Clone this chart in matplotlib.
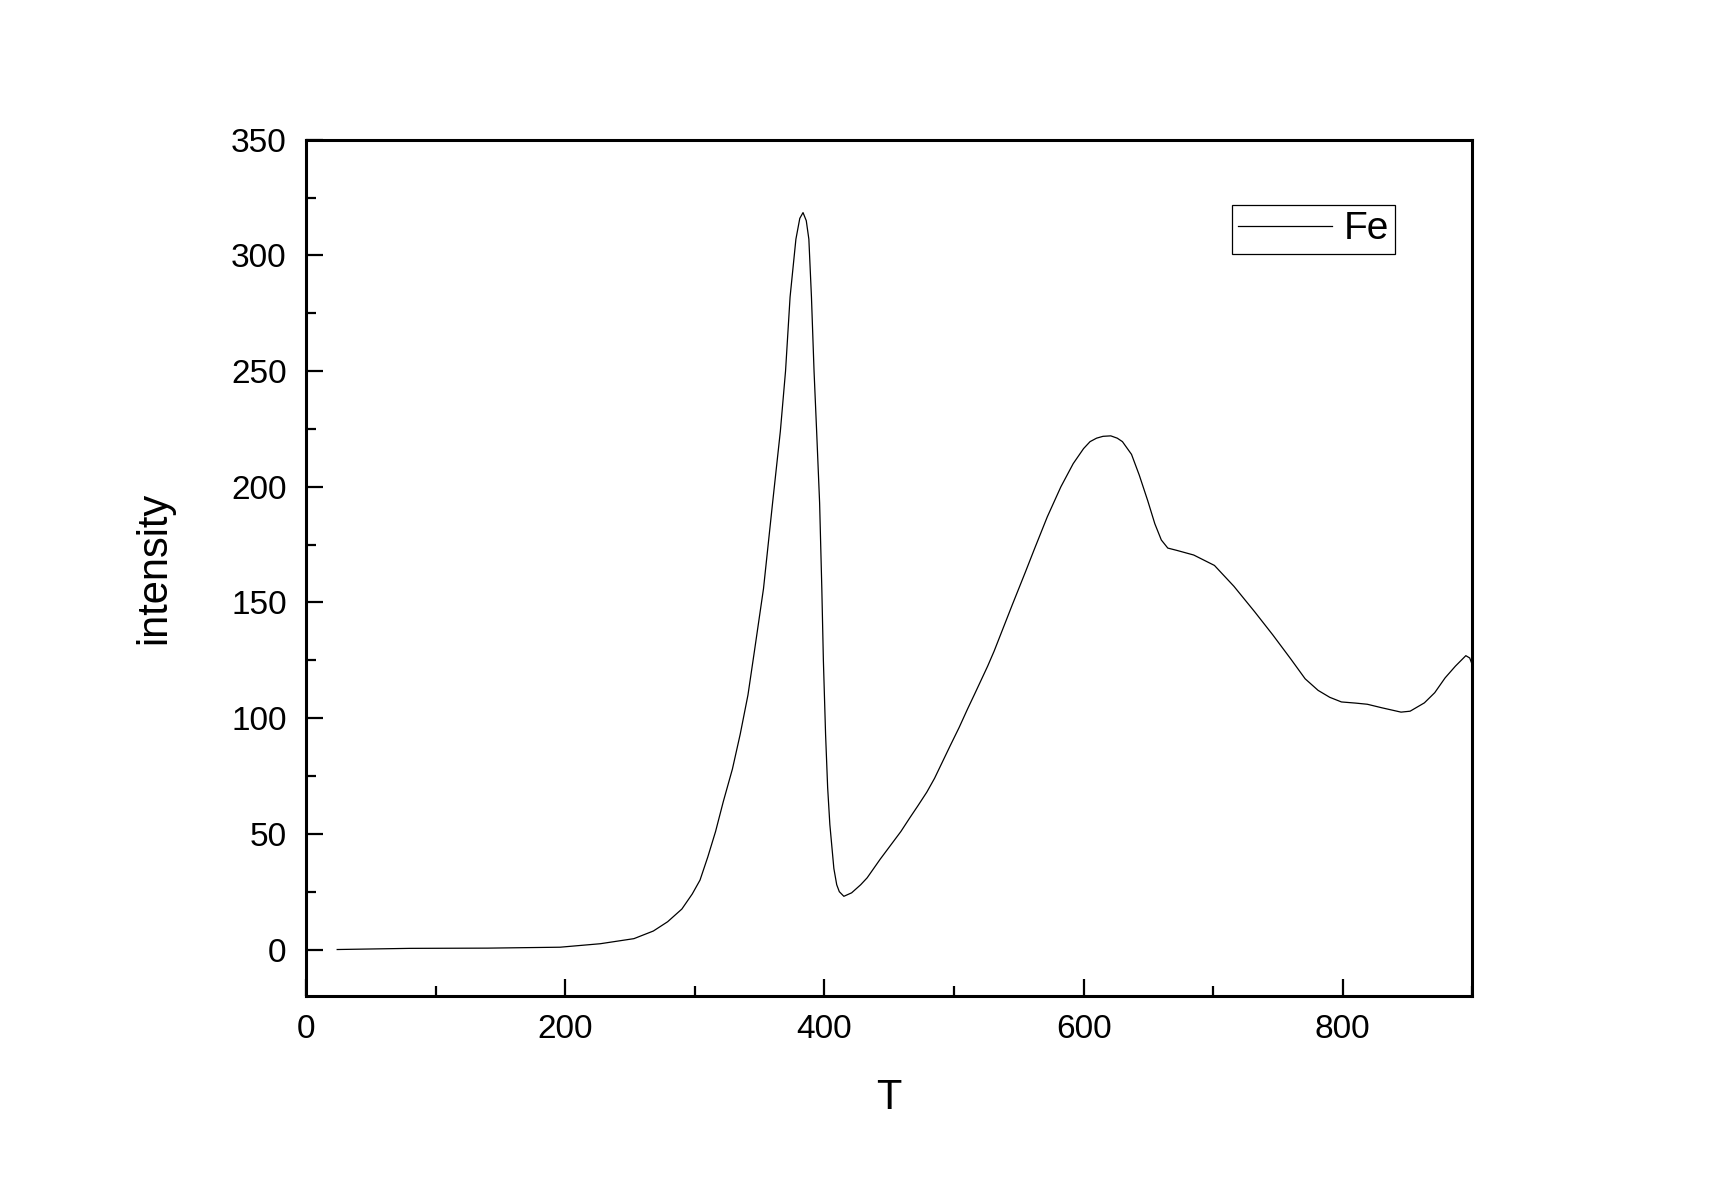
import matplotlib
matplotlib.use("Agg")
import matplotlib.pyplot as plt
from matplotlib.ticker import MultipleLocator

plt.rcParams['font.family'] = ['Liberation Sans', 'DejaVu Sans']

# temperature (T) and Fe signal
T = [24, 80, 140, 196, 227, 253, 268, 279, 290, 298, 304, 310, 316, 322, 329,
     335, 341, 346, 353, 360, 366, 370, 373.5, 378, 381, 383.5, 386, 388, 390,
     392, 394, 396.3, 398, 399.2, 400.9, 402.5, 404.2, 407.3, 409.5, 411.5, 415,
     421, 428, 433, 443, 451, 459, 466, 472, 479, 485, 491, 497, 504, 510.5, 516,
     521, 526, 531, 538, 545, 555, 562, 572, 582.5, 592, 600, 605, 610, 615, 621,
     626, 630, 637, 643, 649.5, 655, 660, 665, 672, 685, 701, 716, 732, 746,
     760, 771, 781, 790, 799, 810, 819, 830, 845, 852, 863, 871, 879, 887, 895,
     898, 900]
fe = [0, 0.5, 0.6, 1, 2.5, 4.7, 8, 12, 17.5, 24, 30, 40, 51, 64, 78,
      93, 110, 129, 156, 193, 224, 250, 282, 307, 316, 318.5, 315, 307, 282,
      250, 224, 193, 156, 125, 93, 70, 54, 35, 28, 25, 23,
      24.5, 28, 31, 39, 45, 51, 57, 62, 68, 74, 81, 88, 96, 104, 110.5,
      116.5, 122.5, 129, 139, 149, 163, 173, 187, 200, 210, 216.5, 219.5, 221, 221.8, 222,
      221, 219.5, 214, 205, 194, 184, 177, 173.5, 172.5, 170.5, 166, 157, 146, 136,
      125.5, 117, 112, 109, 107, 106.5, 106, 104.5, 102.6, 103, 106.6, 111, 117.4, 122.5, 127,
      126, 123]

fig = plt.figure(figsize=(17.1, 11.94), dpi=100)
ax = fig.add_axes([0.179, 0.166, 0.682, 0.717])

ax.plot(T, fe, color='black', linewidth=0.9, label='Fe')

ax.set_xlim(0, 900)
ax.set_ylim(-20, 350)
ax.xaxis.set_major_locator(MultipleLocator(200))
ax.xaxis.set_minor_locator(MultipleLocator(100))
ax.yaxis.set_major_locator(MultipleLocator(50))
ax.yaxis.set_minor_locator(MultipleLocator(25))

ax.tick_params(which='both', direction='in', top=False, right=False,
               labelsize=24, width=1.6)
ax.tick_params(which='major', length=12.5)
ax.tick_params(which='minor', length=7)
ax.tick_params(axis='x', pad=13)
ax.tick_params(axis='y', pad=14)
for s in ax.spines.values():
    s.set_linewidth(2.2)

ax.set_xlabel('T', fontsize=30, labelpad=24)
ax.set_ylabel('intensity', fontsize=30, labelpad=41)

leg = ax.legend(loc='upper right', bbox_to_anchor=(0.934, 0.924),
                borderaxespad=0, fontsize=28, fancybox=False,
                edgecolor='black', framealpha=1, handlelength=2.4,
                handletextpad=0.3, borderpad=0.17)
leg.get_frame().set_linewidth(0.9)

fig.savefig('out.png', dpi=100)
